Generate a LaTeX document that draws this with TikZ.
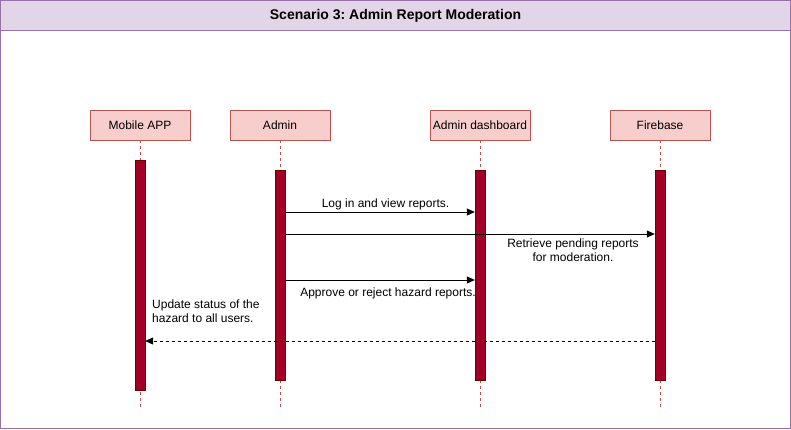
\documentclass[tikz,border=0pt]{standalone}
\usepackage{fontspec}
\setmainfont{Liberation Sans}
\usepackage{tikz}
\usetikzlibrary{arrows.meta, positioning, calc}
\frenchspacing

\definecolor{frline}{HTML}{9673A6}
\definecolor{frfill}{HTML}{E1D5E7}
\definecolor{hdline}{HTML}{B85450}
\definecolor{hdfill}{HTML}{F8CECC}
\definecolor{barline}{HTML}{6F0000}
\definecolor{barfill}{HTML}{A20025}

\begin{document}
\begin{tikzpicture}[x=1pt, y=-1pt,
    head/.style={draw=hdline, fill=hdfill, minimum width=100pt, minimum height=30pt, inner sep=0pt, font=\fontsize{12}{14}\selectfont},
    bar/.style={draw=barline, fill=barfill, minimum width=10pt, inner sep=0pt},
    life/.style={draw=hdline, line width=0.8pt, dash pattern=on 3pt off 3pt},
    msg/.style={-{Triangle[length=8pt, width=7pt]}, line width=0.8pt},
    ret/.style={msg, dash pattern=on 3pt off 3pt},
    lbl/.style={font=\fontsize{12}{14}\selectfont, inner sep=0pt}]
    \useasboundingbox (0,0) rectangle (791,429);
    % frame and title band
    \draw[frline, fill=white, line width=0.8pt] (0.5,0.5) rectangle (790.5,428.5);
    \draw[frline, fill=frfill, line width=0.8pt] (0.5,0.5) rectangle (790.5,30.5);
    \node[font=\bfseries\fontsize{14}{16}\selectfont] (title) at (395.5,15.5) {Scenario 3: Admin Report Moderation};
    % lifelines
    \foreach \nm/\x/\h/\txt in {app/140/230/Mobile APP, adm/280/210/Admin, dsh/480/210/Admin dashboard, fb/660/210/Firebase} {
        \node[head] (head\nm) at (\x,125) {\txt};
        \coordinate (end\nm) at (\x,407);
        \draw[life] (head\nm.south) -- (end\nm);
        \node[bar, minimum height=\h pt] (bar\nm) at (\x,275) {};
    }
    % messages
    \coordinate (m1) at (0,212);
    \coordinate (m2) at (0,234);
    \coordinate (m3) at (0,280);
    \coordinate (m4) at (0,341);
    \draw[msg] (baradm.east |- m1) -- (bardsh.west |- m1);
    \draw[msg] (baradm.east |- m2) -- (barfb.west |- m2);
    \draw[msg] (baradm.east |- m3) -- (bardsh.west |- m3);
    \draw[ret] (barfb.west |- m4) -- (barapp.east |- m4);
    % labels
    \node[lbl] (l1) at (385.5,204.5) {Log in and view reports.};
    \node[lbl, align=center] (l2) at (573,250.5) {Retrieve pending reports\\for moderation.};
    \node[lbl] (l3) at (388,293.5) {Approve or reject hazard reports.};
    \node[lbl, align=left, anchor=west] (l4) at (152,311) {Update status of the\\hazard to all users.};
\end{tikzpicture}
\end{document}
